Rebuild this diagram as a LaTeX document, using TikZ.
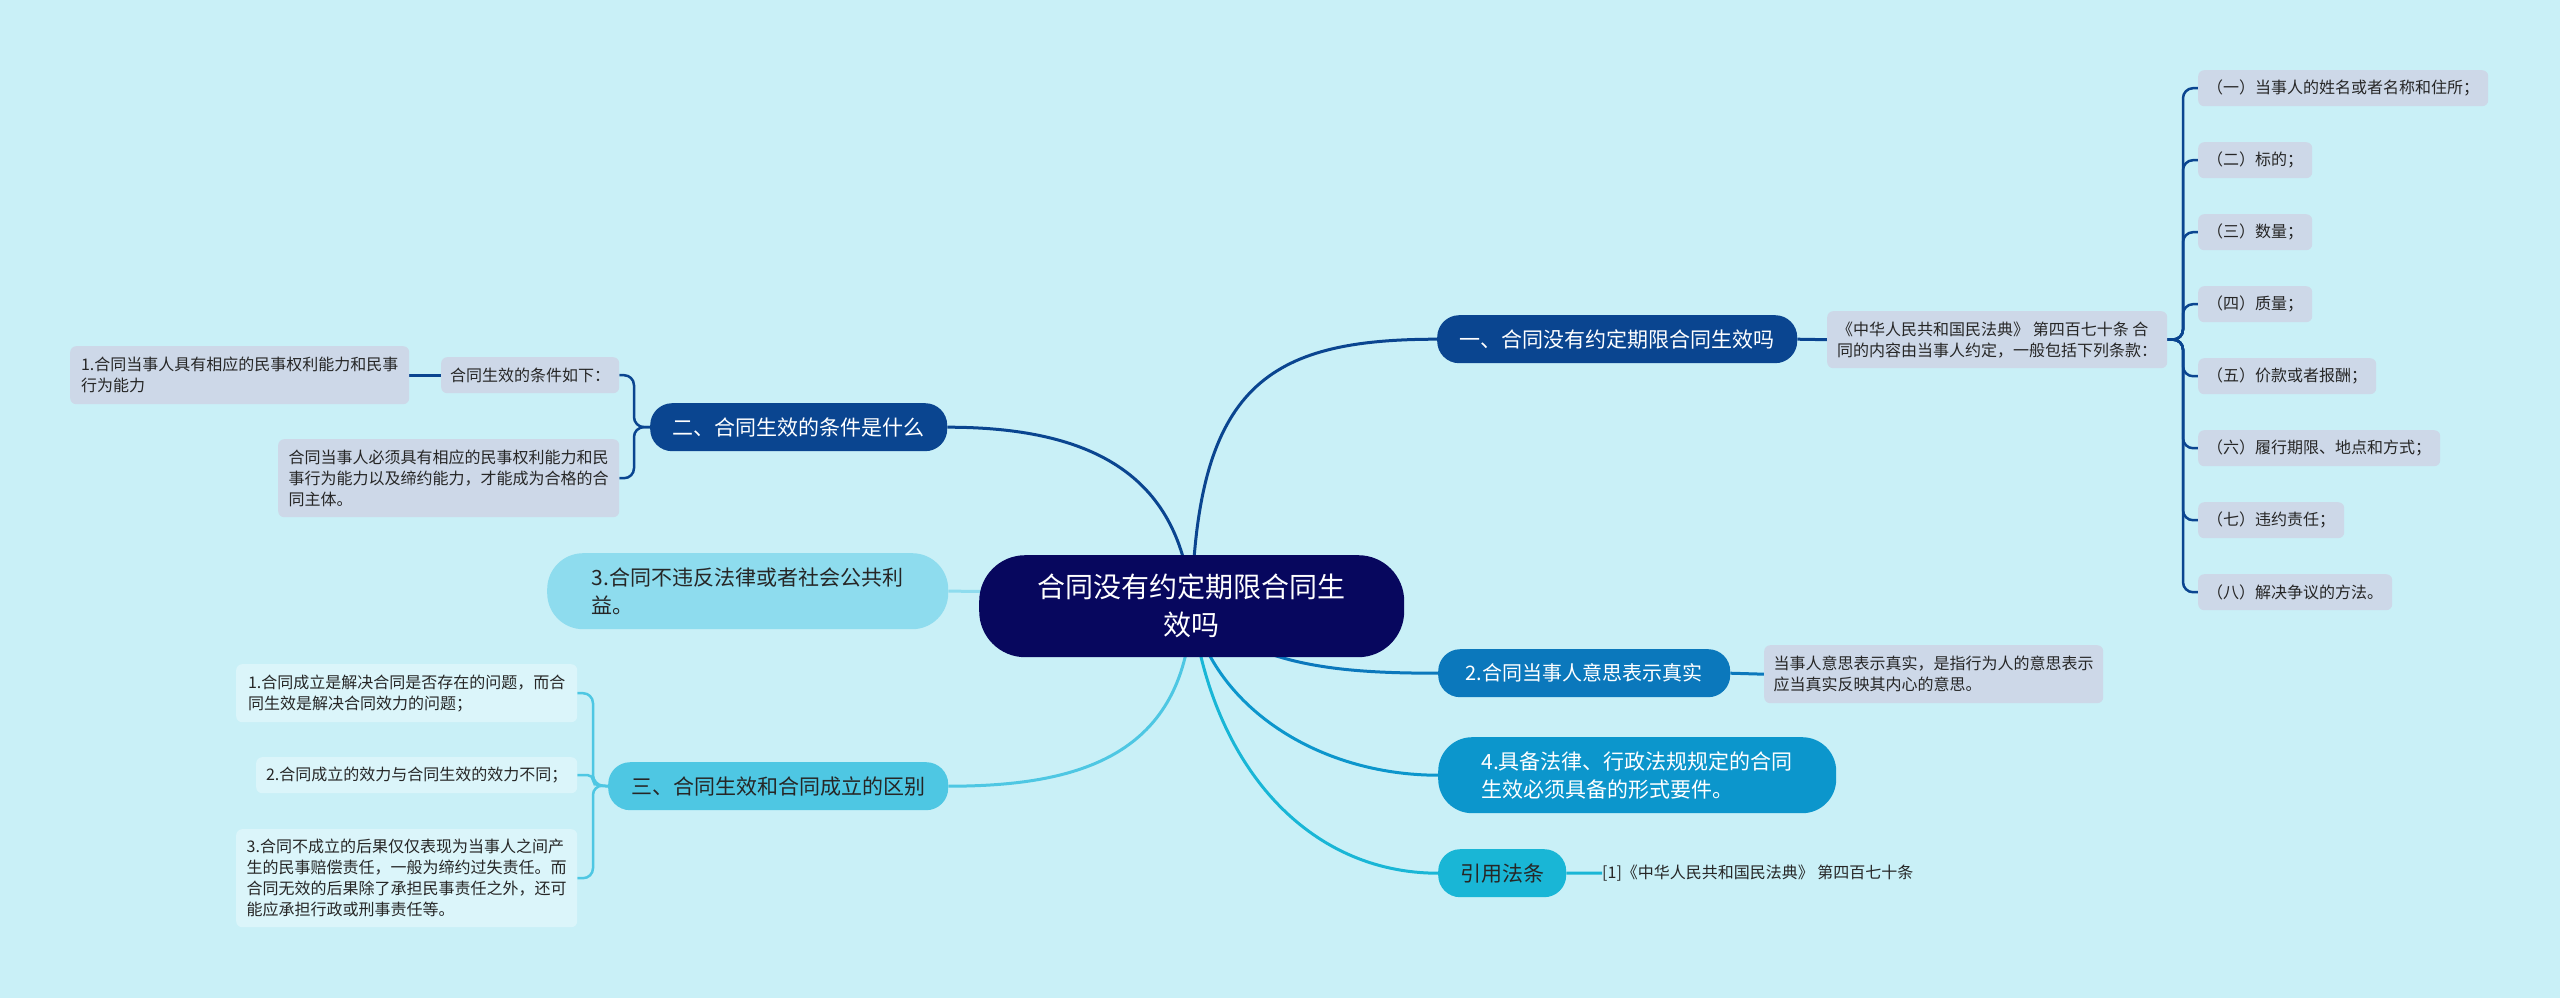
\documentclass[tikz,border=0pt]{standalone}
\usepackage{fontspec}
\setmainfont{Noto Sans CJK SC}
\usetikzlibrary{backgrounds}
\newcommand{\setfs}[2]{\fontsize{#1pt}{#2pt}\selectfont}
\definecolor{bg}{HTML}{C9F0F7}
\definecolor{navy}{HTML}{07075E}
\definecolor{b1c}{HTML}{0A4590}
\definecolor{b2c}{HTML}{0B78BC}
\definecolor{b4c}{HTML}{0C96CC}
\definecolor{bref}{HTML}{19B6D6}
\definecolor{b3c}{HTML}{4EC7E3}
\definecolor{b3lc}{HTML}{8EDCEE}
\definecolor{grayb}{HTML}{CDD8E8}
\definecolor{lightb}{HTML}{DBF5FA}
\definecolor{txt}{HTML}{262626}
\begin{document}
\begin{tikzpicture}[x=1pt,y=-1pt]
\tikzset{
  topic/.style={rounded corners=22pt, minimum height=48pt, inner sep=0pt, align=center, anchor=north west},
  gbox/.style={fill=grayb, rounded corners=6pt, inner xsep=9pt, inner ysep=0pt, text=txt, align=left, anchor=north west, font={\setfs{16}{21}}},
  lbox/.style={gbox, fill=lightb},
  conn/.style={line width=3pt},
  brk/.style={line width=2.5pt, rounded corners=10pt},
}
\useasboundingbox (0,0) rectangle (2560,998);

% central topic
\node[fill=navy, text=white, rounded corners=46pt, minimum width=425pt, minimum height=102pt, inner sep=0pt, align=center, anchor=north west, font={\setfs{28}{38}}] (ctr) at (979,555) {合同没有约定期限合同生\\效吗};

% branch 1
\node[topic, fill=b1c, text=white, minimum width=360pt, font={\setfs{21}{28}}] (b1) at (1437,315) {一、合同没有约定期限合同生效吗};
\node[gbox, minimum width=340pt, minimum height=57pt] (b1t) at (1827,311) {《中华人民共和国民法典》 第四百七十条 合\\同的内容由当事人约定，一般包括下列条款：};
\node[gbox, minimum height=36pt] (i1) at (2198,70) {（一）当事人的姓名或者名称和住所；};
\node[gbox, minimum height=36pt] (i2) at (2198,142) {（二）标的；};
\node[gbox, minimum height=36pt] (i3) at (2198,214) {（三）数量；};
\node[gbox, minimum height=36pt] (i4) at (2198,286) {（四）质量；};
\node[gbox, minimum height=36pt] (i5) at (2198,358) {（五）价款或者报酬；};
\node[gbox, minimum height=36pt] (i6) at (2198,430) {（六）履行期限、地点和方式；};
\node[gbox, minimum height=36pt] (i7) at (2198,502) {（七）违约责任；};
\node[gbox, minimum height=36pt] (i8) at (2198,574) {（八）解决争议的方法。};
\coordinate (J1) at (2183,339.5);

% branch 2 (二)
\node[topic, fill=b1c, text=white, minimum width=297pt, font={\setfs{21}{28}}] (b2) at (650,403) {二、合同生效的条件是什么};
\node[gbox, minimum width=178pt, minimum height=36pt] (c2a) at (441,357) {合同生效的条件如下：};
\node[gbox, minimum width=339pt, minimum height=58pt] (c2aa) at (70,346) {1.合同当事人具有相应的民事权利能力和民事\\行为能力};
\node[gbox, minimum width=341pt, minimum height=78pt] (c2b) at (278,439) {合同当事人必须具有相应的民事权利能力和民\\事行为能力以及缔约能力，才能成为合格的合\\同主体。};
\coordinate (J2) at (634,427);

% 3.
\node[fill=b3lc, text=txt, rounded corners=36pt, minimum width=401pt, minimum height=76pt, inner sep=0pt, align=left, anchor=north west, font={\setfs{21}{28}}] (n3) at (547,553) {3.合同不违反法律或者社会公共利\\益。};

% branch 三
\node[topic, fill=b3c, text=txt, minimum width=340pt, font={\setfs{21}{28}}] (b3) at (608,762) {三、合同生效和合同成立的区别};
\node[lbox, minimum width=341pt, minimum height=58pt] (d1) at (236,664) {1.合同成立是解决合同是否存在的问题，而合\\同生效是解决合同效力的问题；};
\node[lbox, minimum width=321pt, minimum height=36pt] (d2) at (256,757) {2.合同成立的效力与合同生效的效力不同；};
\node[lbox, minimum width=341pt, minimum height=98pt] (d3) at (236,829) {3.合同不成立的后果仅仅表现为当事人之间产\\生的民事赔偿责任，一般为缔约过失责任。而\\合同无效的后果除了承担民事责任之外，还可\\能应承担行政或刑事责任等。};
\coordinate (J3) at (593,785);

% 2.
\node[topic, fill=b2c, text=white, minimum width=292pt, font={\setfs{20}{27}}] (b2r) at (1438,649) {2.合同当事人意思表示真实};
\node[gbox, minimum width=339pt, minimum height=58pt] (e1) at (1764,645) {当事人意思表示真实，是指行为人的意思表示\\应当真实反映其内心的意思。};

% 4.
\node[fill=b4c, text=white, rounded corners=34pt, minimum width=398pt, minimum height=76pt, inner sep=0pt, align=left, anchor=north west, font={\setfs{21}{28}}] (b4) at (1438,737) {4.具备法律、行政法规规定的合同\\生效必须具备的形式要件。};

% 引用法条
\node[topic, fill=bref, text=txt, minimum width=128pt, font={\setfs{21}{28}}] (ref) at (1438,849) {引用法条};
\node[anchor=west, text=txt, inner sep=0pt, font={\setfs{16}{21}}] (reft) at (1602,873) {[1]《中华人民共和国民法典》 第四百七十条};

\begin{scope}[on background layer]
\fill[bg] (0,0) rectangle (2560,998);
% main connectors
\draw[conn, b1c] (ctr.center) .. controls +(5,-220) and +(-170,0) .. (b1.west);
\draw[conn, b1c] (ctr.center) .. controls +(-10,-120) and +(160,0) .. (b2.east);
\draw[conn, b3lc] (ctr.center) .. controls +(-100,-10) and +(80,0) .. (n3.east);
\draw[conn, b3c] (ctr.center) .. controls +(-5,150) and +(130,0) .. (b3.east);
\draw[conn, b2c] (ctr.center) .. controls +(60,60) and +(-100,0) .. (b2r.west);
\draw[conn, b4c] (ctr.center) .. controls +(20,100) and +(-120,0) .. (b4.west);
\draw[conn, bref] (ctr.center) .. controls +(20,160) and +(-130,0) .. (ref.west);
% branch 1 children
\draw[conn, b1c] (b1.east) -- (b1t.west);
\foreach \i in {i1,i2,i3,i4,i5,i6,i7,i8}{
  \draw[brk, b1c] (b1t.east) -- (J1) |- (\i.west);
}
% branch 二 children
\draw[brk, b1c] (b2.west) -- (J2) |- (c2a.east);
\draw[brk, b1c] (b2.west) -- (J2) |- (c2b.east);
\draw[conn, b1c] (c2a.west) -- (c2aa.east);
% branch 三 children
\draw[brk, b3c] (b3.west) -- (J3) |- (d1.east);
\draw[brk, b3c, rounded corners=5pt] (b3.west) -- (J3) |- (d2.east);
\draw[brk, b3c] (b3.west) -- (J3) |- (d3.east);
% 2. child
\draw[conn, b2c] (b2r.east) -- (e1.west);
% reference child
\draw[conn, bref] (ref.east) -- (reft.west);
\end{scope}
\end{tikzpicture}
\end{document}
